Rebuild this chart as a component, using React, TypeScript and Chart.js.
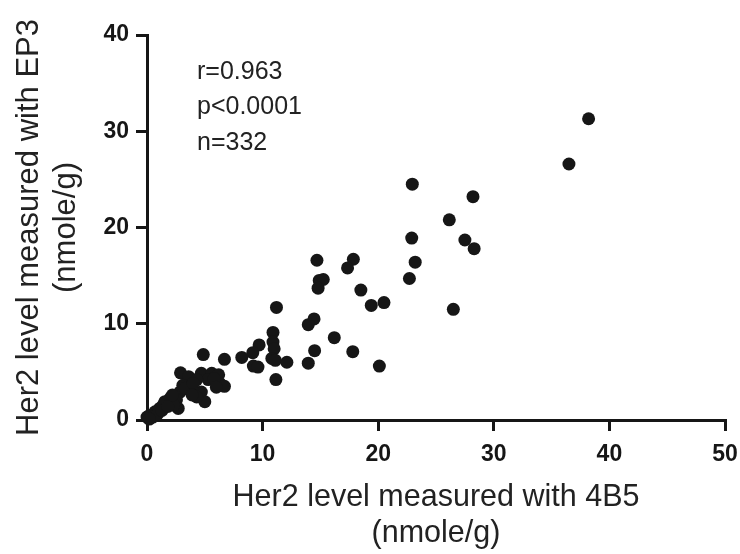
import React, { useEffect, useRef } from "react";
import { Chart, registerables } from "chart.js";

Chart.register(...registerables);

// Her2 level measured with 4B5 (x) and with EP3 (y), nmole/g
const her2With4B5: number[] = [
  38.2, 36.5, 22.95, 28.2, 26.15, 22.9, 27.5, 28.3, 23.2, 22.7, 26.5,
  14.7, 17.85, 17.35, 14.9, 15.25, 14.8, 18.5, 19.4, 20.5, 11.2, 14.45, 13.95,
  10.9, 10.9, 9.7, 11.0, 9.15, 8.2, 10.8, 11.1, 12.1, 16.2, 14.5, 13.95, 17.8,
  20.1, 9.2, 9.6, 11.15,
  4.87, 6.7, 2.9, 3.6, 4.7, 5.6, 6.2, 5.3, 6.3, 6.7, 4.3, 3.1, 3.7, 2.85, 4.7,
  5.0, 2.0, 1.55, 2.55, 2.7, 1.1, 0.7, 0.26, 0.0, 1.4, 2.3, 4.3, 0.5, 0.9, 1.3,
  1.8, 0.2, 3.3, 4.0, 5.8, 6.0, 3.9, 2.2,
];
const her2WithEP3: number[] = [
  31.3, 26.6, 24.5, 23.2, 20.8, 18.9, 18.7, 17.8, 16.4, 14.7, 11.5,
  16.6, 16.7, 15.8, 14.5, 14.6, 13.7, 13.5, 11.9, 12.2, 11.7, 10.5, 9.9,
  9.1, 8.1, 7.8, 7.4, 7.0, 6.5, 6.4, 6.2, 6.0, 8.55, 7.2, 5.9, 7.1,
  5.6, 5.6, 5.5, 4.2,
  6.8, 6.3, 4.9, 4.5, 4.85, 4.85, 4.7, 4.2, 3.8, 3.5, 4.2, 3.6, 3.1, 2.9, 2.9,
  1.9, 2.25, 1.9, 2.1, 1.2, 1.2, 0.86, 0.5, 0.3, 1.55, 1.55, 2.4, 0.3, 0.6, 1.0,
  1.4, 0.1, 3.3, 3.8, 4.3, 3.4, 2.6, 2.6,
];

const statLines: string[] = ["r=0.963", "p<0.0001", "n=332"];
const xTitle: string[] = ["Her2 level measured with 4B5", "(nmole/g)"];
const yTitle: string[] = ["Her2 level measured with EP3", "(nmole/g)"];

const FONT = "'Liberation Sans', Arial, sans-serif";
const INK = "#161616";

export default function App() {
  const ref = useRef<HTMLCanvasElement | null>(null);

  useEffect(() => {
    document.body.style.margin = "0";
    const canvas = ref.current;
    if (!canvas) return;

    const statsPlugin = {
      id: "stats",
      afterDraw(chart: any) {
        const ctx = chart.ctx;
        ctx.save();
        ctx.fillStyle = "#222";
        ctx.font = `25px ${FONT}`;
        ctx.textAlign = "left";
        ctx.textBaseline = "middle";
        statLines.forEach((s, i) => {
          ctx.fillText(s, 197, 72 + i * 35.5);
        });
        ctx.restore();
      },
    };

    const chart = new Chart(canvas, {
      type: "scatter",
      data: {
        datasets: [
          {
            data: her2With4B5.map((x, i) => ({ x, y: her2WithEP3[i] })),
            backgroundColor: INK,
            borderColor: INK,
            borderWidth: 0,
            pointRadius: 6.5,
            pointHoverRadius: 6.5,
            clip: false as any,
          },
        ],
      },
      options: {
        animation: false,
        responsive: false,
        maintainAspectRatio: false,
        layout: { padding: { top: 35, right: 15, left: 0, bottom: 0 } },
        plugins: {
          legend: { display: false },
          tooltip: { enabled: false },
        },
        scales: {
          x: {
            type: "linear",
            min: 0,
            max: 50,
            afterFit: (s: any) => {
              s.height = 134;
              s.paddingLeft = 0;
              s.paddingRight = 0;
            },
            border: { display: true, width: 3, color: INK },
            grid: {
              display: true,
              drawOnChartArea: false,
              drawTicks: true,
              tickLength: 11,
              lineWidth: 3,
              color: INK,
            },
            ticks: {
              stepSize: 10,
              padding: 10,
              color: INK,
              font: { family: FONT, size: 23, weight: "bold" },
            },
            title: {
              display: true,
              text: xTitle,
              color: "#222",
              font: { family: FONT, size: 30.5 },
              padding: { top: 0, bottom: 2 },
            },
          },
          y: {
            type: "linear",
            min: 0,
            max: 40,
            afterFit: (s: any) => {
              s.width = 147;
              s.paddingTop = 0;
              s.paddingBottom = 0;
            },
            border: { display: true, width: 3, color: INK },
            grid: {
              display: true,
              drawOnChartArea: false,
              drawTicks: true,
              tickLength: 11,
              lineWidth: 3,
              color: INK,
            },
            ticks: {
              stepSize: 10,
              padding: 7,
              color: INK,
              font: { family: FONT, size: 23, weight: "bold" },
            },
            title: {
              display: true,
              text: yTitle,
              color: "#222",
              font: { family: FONT, size: 31 },
              padding: { top: 11, bottom: 0 },
            },
          },
        },
      },
      plugins: [statsPlugin],
    });

    return () => chart.destroy();
  }, []);

  return (
    <div style={{ width: 740, height: 554 }}>
      <canvas ref={ref} width={740} height={554} style={{ display: "block", width: 740, height: 554 }} />
    </div>
  );
}
